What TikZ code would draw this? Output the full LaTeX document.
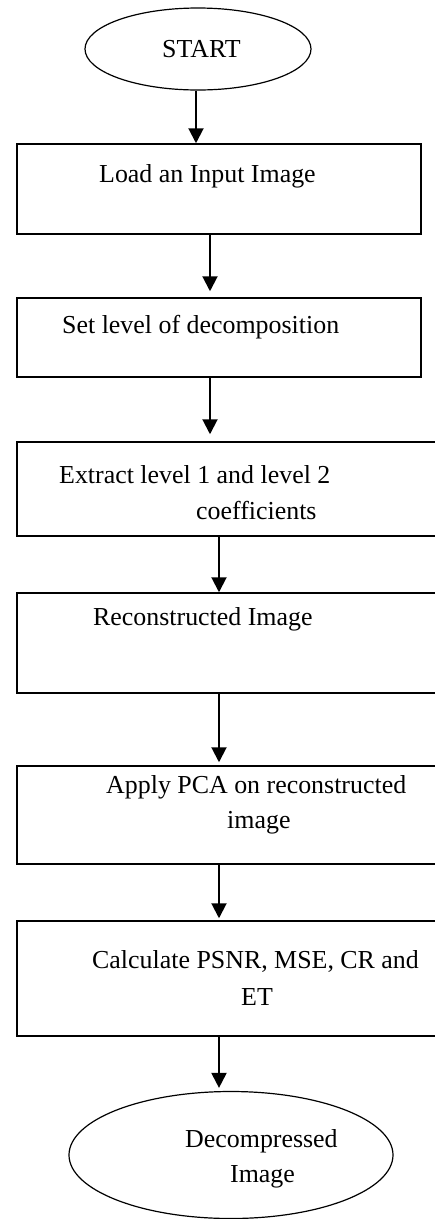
\documentclass[tikz,border=0pt]{standalone}
\usepackage{fontspec}
\setmainfont{Liberation Serif}
\usetikzlibrary{arrows.meta,shapes.geometric}
\begin{document}
\begin{tikzpicture}[x=1bp,y=-1bp,
  box/.style={draw, rectangle, line width=1.5bp, inner sep=0pt},
  term/.style={draw, ellipse, line width=1.2bp, inner sep=0pt},
  lbl/.style={anchor=base west, inner sep=0pt, font=\fontsize{26}{36}\selectfont},
  arr/.style={line width=2bp, -{Triangle[width=15bp,length=15bp]}}
]
\useasboundingbox (0,0) rectangle (435,1219);
\clip (0,0) rectangle (435,1219);

% shapes
\node[term, minimum width=226bp, minimum height=82bp] (start) at (198,49) {};
\node[box, minimum width=404bp, minimum height=90bp] (b1) at (219,189) {};
\node[box, minimum width=404bp, minimum height=79bp] (b2) at (219,337.5) {};
\node[box, minimum width=428bp, minimum height=94bp] (b3) at (231,489) {};
\node[box, minimum width=428bp, minimum height=100bp] (b4) at (231,643) {};
\node[box, minimum width=428bp, minimum height=98bp] (b5) at (231,815) {};
\node[box, minimum width=428bp, minimum height=115bp] (b6) at (231,978.5) {};
\node[term, minimum width=324bp, minimum height=127bp] (end) at (231,1155) {};

% texts
\node[lbl] (t0) at (162,57) {START};
\node[lbl] (t1) at (99,182) {Load an Input Image};
\node[lbl] (t2) at (62,333) {Set level of decomposition};
\node[lbl] (t3a) at (59,483) {Extract level 1 and level 2};
\node[lbl] (t3b) at (196,519) {coefficients};
\node[lbl] (t4) at (93,625) {Reconstructed Image};
\node[lbl] (t5a) at (106,793) {Apply PCA on reconstructed};
\node[lbl] (t5b) at (227,828) {image};
\node[lbl] (t6a) at (92,968) {Calculate PSNR, MSE, CR and};
\node[lbl] (t6b) at (241,1005) {ET};
\node[lbl] (t7a) at (185,1147) {Decompressed};
\node[lbl] (t7b) at (230,1182) {Image};

% connectors
\draw[arr] ([xshift=-2bp]start.south) -- ([xshift=-2bp]start.south |- b1.north);
\draw[arr, shorten >=6bp] ([xshift=-9bp]b1.south) -- ([xshift=-9bp]b2.north);
\draw[arr, shorten >=7bp] ([xshift=-9bp]b2.south) -- ([xshift=-9bp]b2.south |- b3.north);
\draw[arr] ([xshift=-12bp]b3.south) -- ([xshift=-12bp]b4.north);
\draw[arr, shorten >=3bp] ([xshift=-12bp]b4.south) -- ([xshift=-12bp]b5.north);
\draw[arr, shorten >=2bp] ([xshift=-12bp]b5.south) -- ([xshift=-12bp]b6.north);
\draw[arr, shorten >=3bp] ([xshift=-12bp]b6.south) -- ([xshift=-12bp]end.north);
\end{tikzpicture}
\end{document}
